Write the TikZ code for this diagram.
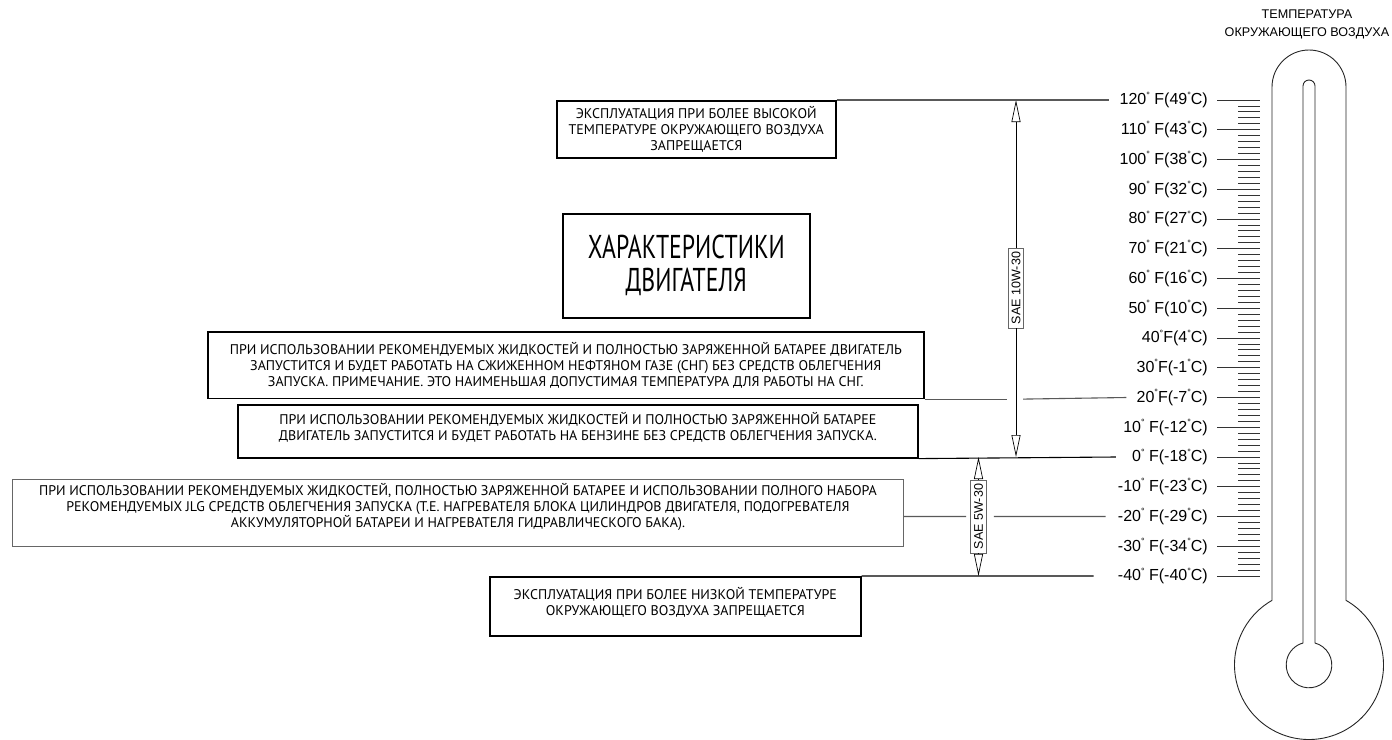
\documentclass[tikz,border=0pt]{standalone}
\usepackage{fontspec}
\setmainfont{Liberation Sans}
\newfontfamily\boxfont{PT Sans}
\newfontfamily\bigboxfont[FakeStretch=0.72]{PT Sans}
\usetikzlibrary{arrows.meta, calc}

\newcommand\dg{\raisebox{.42em}{\fontsize{9}{9}\selectfont °}}

\begin{document}
\begin{tikzpicture}[x=1pt, y=1pt,
    box/.style={draw, line width=1.6pt, align=center, inner sep=0pt, anchor=north west,
        font=\boxfont\fontsize{14}{16}\selectfont},
    thinbox/.style={box, draw=gray!80!black, line width=0.9pt},
    level/.style={gray!70!black, line width=1.1pt},
    tick/.style={black!80, line width=0.9pt},
    scalelbl/.style={anchor=east, inner sep=0pt, font=\fontsize{16}{16}\selectfont},
    oil/.style={line width=0.7pt, -{Triangle[open, length=22pt, width=9pt]}},
    sae/.style={draw=gray!80!black, fill=white, rotate=90, line width=0.9pt,
        inner xsep=4pt, inner ysep=3.5pt, font=\fontsize{12.5}{12.5}\selectfont},
    thermo/.style={draw=black!85, line width=0.9pt}]
    \useasboundingbox (0,0) rectangle (1392,-739);

    % Termometro
    \node[align=center, font=\fontsize{12.6}{18}\selectfont] (title) at (1307,-24)
        {ТЕМПЕРАТУРА\\ОКРУЖАЮЩЕГО ВОЗДУХА};
    \coordinate (bulb) at (1309,-665);
    \draw[thermo] ($(bulb)+(119.8:74.5)$) -- (1272,-87) arc[start angle=180, end angle=0, radius=37]
        -- ($(bulb)+(60.2:74.5)$) arc[start angle=60.2, end angle=-240.2, radius=74.5] -- cycle;
    \draw[thermo] ($(bulb)+(105.3:22.8)$) -- (1303,-86) arc[start angle=180, end angle=0, radius=6]
        -- ($(bulb)+(74.7:22.8)$) arc[start angle=74.7, end angle=-254.7, radius=22.8] -- cycle;

    % Escala
    \foreach \t in {-40,-38,...,120}
        \draw[tick] (1238,{-100-(120-(\t))*2.975}) -- (1260,{-100-(120-(\t))*2.975});
    \foreach \t in {-40,-30,...,120}
        \draw[tick] (1217,{-100-(120-(\t))*2.975}) -- (1260,{-100-(120-(\t))*2.975});
    \foreach \t/\txt in {120/{120\dg\ F(49\dg C)}, 110/{110\dg\ F(43\dg C)},
        100/{100\dg\ F(38\dg C)}, 90/{90\dg\ F(32\dg C)}, 80/{80\dg\ F(27\dg C)},
        70/{70\dg\ F(21\dg C)}, 60/{60\dg\ F(16\dg C)}, 50/{50\dg\ F(10\dg C)},
        40/{40\dg F(4\dg C)}, 30/{30\dg F(-1\dg C)}, 20/{20\dg F(-7\dg C)},
        10/{10\dg\ F(-12\dg C)}, 0/{0\dg\ F(-18\dg C)}, -10/{-10\dg\ F(-23\dg C)},
        -20/{-20\dg\ F(-29\dg C)}, -30/{-30\dg\ F(-34\dg C)}, -40/{-40\dg\ F(-40\dg C)}}
        \node[scalelbl] (t\t) at (1208,{-100-(120-(\t))*2.975}) {\txt};

    % Cuadros
    \node[box, minimum width=279, minimum height=57] (hotbox) at (556,-100)
        {ЭКСПЛУАТАЦИЯ ПРИ БОЛЕЕ ВЫСОКОЙ\\ТЕМПЕРАТУРЕ ОКРУЖАЮЩЕГО ВОЗДУХА\\ЗАПРЕЩАЕТСЯ};
    \node[box, minimum width=247, minimum height=104, font=\bigboxfont\fontsize{33}{33}\selectfont]
        (engbox) at (562,-213) {ХАРАКТЕРИСТИКИ\\ДВИГАТЕЛЯ};
    \node[box, minimum width=716, minimum height=66.5] (lpgbox) at (207,-331)
        {ПРИ ИСПОЛЬЗОВАНИИ РЕКОМЕНДУЕМЫХ ЖИДКОСТЕЙ И ПОЛНОСТЬЮ ЗАРЯЖЕННОЙ БАТАРЕЕ ДВИГАТЕЛЬ\\
         ЗАПУСТИТСЯ И БУДЕТ РАБОТАТЬ НА СЖИЖЕННОМ НЕФТЯНОМ ГАЗЕ (СНГ) БЕЗ СРЕДСТВ ОБЛЕГЧЕНИЯ\\
         ЗАПУСКА. ПРИМЕЧАНИЕ. ЭТО НАИМЕНЬШАЯ ДОПУСТИМАЯ ТЕМПЕРАТУРА ДЛЯ РАБОТЫ НА СНГ.};
    \node[box, minimum width=680, minimum height=53, text depth=9pt] (gasbox) at (237,-404)
        {ПРИ ИСПОЛЬЗОВАНИИ РЕКОМЕНДУЕМЫХ ЖИДКОСТЕЙ И ПОЛНОСТЬЮ ЗАРЯЖЕННОЙ БАТАРЕЕ\\
         ДВИГАТЕЛЬ ЗАПУСТИТСЯ И БУДЕТ РАБОТАТЬ НА БЕНЗИНЕ БЕЗ СРЕДСТВ ОБЛЕГЧЕНИЯ ЗАПУСКА.};
    \node[thinbox, minimum width=891, minimum height=67, text depth=16pt] (ebox) at (12,-479)
        {ПРИ ИСПОЛЬЗОВАНИИ РЕКОМЕНДУЕМЫХ ЖИДКОСТЕЙ, ПОЛНОСТЬЮ ЗАРЯЖЕННОЙ БАТАРЕЕ И ИСПОЛЬЗОВАНИИ ПОЛНОГО НАБОРА\\
         РЕКОМЕНДУЕМЫХ JLG СРЕДСТВ ОБЛЕГЧЕНИЯ ЗАПУСКА (Т.Е. НАГРЕВАТЕЛЯ БЛОКА ЦИЛИНДРОВ ДВИГАТЕЛЯ, ПОДОГРЕВАТЕЛЯ\\
         АККУМУЛЯТОРНОЙ БАТАРЕИ И НАГРЕВАТЕЛЯ ГИДРАВЛИЧЕСКОГО БАКА).};
    \node[box, minimum width=371, minimum height=59, text depth=10pt] (lowbox) at (489,-576)
        {ЭКСПЛУАТАЦИЯ ПРИ БОЛЕЕ НИЗКОЙ ТЕМПЕРАТУРЕ\\ОКРУЖАЮЩЕГО ВОЗДУХА ЗАПРЕЩАЕТСЯ};

    % Aceites
    \coordinate (top10) at (1016,-100);
    \coordinate (bot10) at (1016,-457);
    \coordinate (top5) at (978.5,-457);
    \coordinate (bot5) at (978.5,-576);
    \node[sae] (sae10) at (1016,-288) {SAE 10W-30};
    \node[sae] (sae5) at (978.5,-516.5) {SAE 5W-30};
    \draw[oil] (sae10) -- (top10);
    \draw[oil] (sae10) -- (bot10);
    \draw[oil] (sae5) -- (top5);
    \draw[oil] (sae5) -- (bot5);

    % Lineas de temperatura
    \draw[level] (hotbox.north east) -- ([xshift=-10pt]t120.west);
    \draw[level] (lpgbox.south east) -- ($(lpgbox.south east -| top10)+(-9,0)$);
    \draw[level] ($(lpgbox.south east -| top10)+(7,0)$) -- ([xshift=-10pt]t20.west);
    \draw[level, black] (gasbox.south east) -- ([xshift=-16pt]t0.west);
    \draw[level] (ebox.east |- t-20.west) -- ([xshift=-4pt]sae5.north);
    \draw[level] ([xshift=7pt]sae5.south) -- ([xshift=-12pt]t-20.west);
    \draw[level, black] (lowbox.north east) -- ([xshift=-24pt]t-40.west);
\end{tikzpicture}
\end{document}
